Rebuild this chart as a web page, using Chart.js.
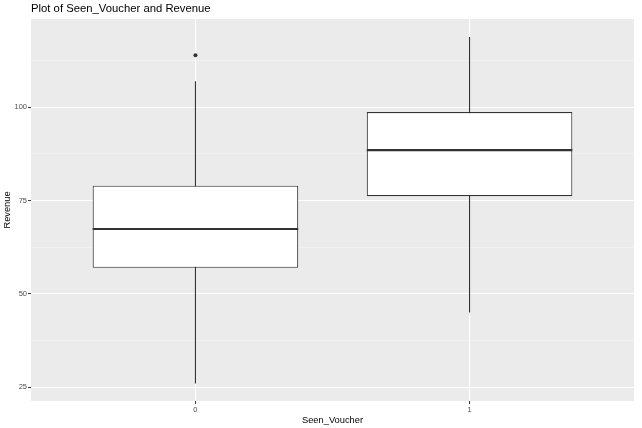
<!DOCTYPE html>
<html>
<head>
<meta charset="utf-8">
<script src="https://cdn.jsdelivr.net/npm/chart.js@4.4.1/dist/chart.umd.min.js"></script>
<style>
  html, body { margin: 0; padding: 0; background: #ffffff; }
  #wrap { width: 642px; height: 428px; }
</style>
</head>
<body>
<div id="wrap"><canvas id="c" width="642" height="428"></canvas></div>
<script>
// ---- data ----
const categories = ['0', '1'];
const categoryPositions = [0, 1];
const lowerWhisker = [26.0, 45.0];
const q1 = [57.0, 76.2];
const median = [67.4, 88.5];
const q3 = [79.0, 98.7];
const upperWhisker = [107.0, 118.8];
const outlierCategory = [0];
const outlierValues = [113.9];
const yTickValues = [25, 50, 75, 100];
const yMinorValues = [37.5, 62.5, 87.5, 112.5];

const yMin = 21.33, yMax = 123.65;
const xMin = -0.6, xMax = 1.6;

const FONT = "'Liberation Sans', Arial, Helvetica, sans-serif";

const boxData = categoryPositions.map((x, i) => ({ x: x, y: [q1[i], q3[i]] }));
const whiskerSets = categoryPositions.map((x, i) => ({
  type: 'line',
  data: [{ x: x, y: lowerWhisker[i] }, { x: x, y: upperWhisker[i] }],
  borderColor: '#333333',
  borderWidth: 1.1,
  pointRadius: 0,
  fill: false,
  order: 3
}));
const outlierData = outlierCategory.map((c, i) => ({ x: categoryPositions[c], y: outlierValues[i] }));

const allYTicks = yTickValues.concat(yMinorValues).sort((a, b) => a - b);
const isMajor = v => yTickValues.indexOf(v) !== -1;

const panelBg = {
  id: 'panelBg',
  beforeDraw(chart) {
    const a = chart.chartArea, ctx = chart.ctx;
    ctx.save();
    ctx.fillStyle = '#EBEBEB';
    ctx.fillRect(a.left, a.top, a.right - a.left, a.bottom - a.top);
    ctx.restore();
  }
};

const medianLines = {
  id: 'medianLines',
  afterDatasetsDraw(chart) {
    const meta = chart.getDatasetMeta(0);
    const ys = chart.scales.y, ctx = chart.ctx;
    ctx.save();
    ctx.strokeStyle = '#333333';
    ctx.lineWidth = 2.2;
    meta.data.forEach((el, i) => {
      const y = ys.getPixelForValue(median[i]);
      ctx.beginPath();
      ctx.moveTo(el.x - el.width / 2, y);
      ctx.lineTo(el.x + el.width / 2, y);
      ctx.stroke();
    });
    ctx.restore();
  }
};

new Chart(document.getElementById('c'), {
  data: {
    datasets: [
      {
        type: 'bar',
        data: boxData,
        backgroundColor: '#FFFFFF',
        borderColor: '#333333',
        borderWidth: 1.1,
        borderSkipped: false,
        barPercentage: 0.75,
        categoryPercentage: 1.0,
        order: 1
      },
      ...whiskerSets,
      {
        type: 'scatter',
        data: outlierData,
        backgroundColor: '#333333',
        borderColor: '#333333',
        pointRadius: 2,
        borderWidth: 0,
        order: 0
      }
    ]
  },
  plugins: [panelBg, medianLines],
  options: {
    responsive: false,
    animation: false,
    layout: { padding: { left: 0, right: 8, top: 0, bottom: 0 } },
    plugins: {
      legend: { display: false },
      tooltip: { enabled: false },
      title: {
        display: true,
        text: 'Plot of Seen_Voucher and Revenue',
        align: 'start',
        fullSize: false,
        color: '#000000',
        font: { family: FONT, size: 11.3, weight: 'normal', lineHeight: 1.2 },
        padding: { top: 2, bottom: 3.4 }
      }
    },
    scales: {
      x: {
        type: 'linear',
        min: xMin,
        max: xMax,
        offset: false,
        afterBuildTicks(scale) { scale.ticks = categoryPositions.map(v => ({ value: v })); },
        afterFit(scale) { scale.height = 27; },
        ticks: {
          color: '#4D4D4D',
          font: { family: FONT, size: 7.5 },
          padding: 1,
          callback: (v) => { const i = categoryPositions.indexOf(v); return i >= 0 ? categories[i] : ''; },
          maxRotation: 0,
          autoSkip: false
        },
        grid: {
          offset: false,
          color: '#FFFFFF',
          lineWidth: 1.1,
          drawTicks: true,
          tickLength: 3,
          tickColor: '#333333',
          tickWidth: 1
        },
        border: { display: false },
        title: {
          display: true,
          text: 'Seen_Voucher',
          color: '#000000',
          font: { family: FONT, size: 9.3 },
          padding: { top: 0, bottom: 2 }
        }
      },
      y: {
        type: 'linear',
        min: yMin,
        max: yMax,
        afterBuildTicks(scale) { scale.ticks = allYTicks.map(v => ({ value: v })); },
        afterFit(scale) { scale.width = 31; },
        ticks: {
          color: '#4D4D4D',
          font: { family: FONT, size: 7.5 },
          padding: 1,
          callback: (v) => isMajor(v) ? String(v) : '',
          autoSkip: false
        },
        grid: {
          color: (ctx) => (ctx.tick && isMajor(ctx.tick.value)) ? '#FFFFFF' : '#F5F5F5',
          lineWidth: (ctx) => (ctx.tick && isMajor(ctx.tick.value)) ? 1.1 : 0.6,
          drawTicks: true,
          tickLength: 3,
          tickColor: (ctx) => (ctx.tick && isMajor(ctx.tick.value)) ? '#333333' : 'rgba(0,0,0,0)',
          tickWidth: 1
        },
        border: { display: false },
        title: {
          display: true,
          text: 'Revenue',
          color: '#000000',
          font: { family: FONT, size: 9.3 },
          padding: { top: 2, bottom: 0 }
        }
      }
    }
  }
});
</script>
</body>
</html>
